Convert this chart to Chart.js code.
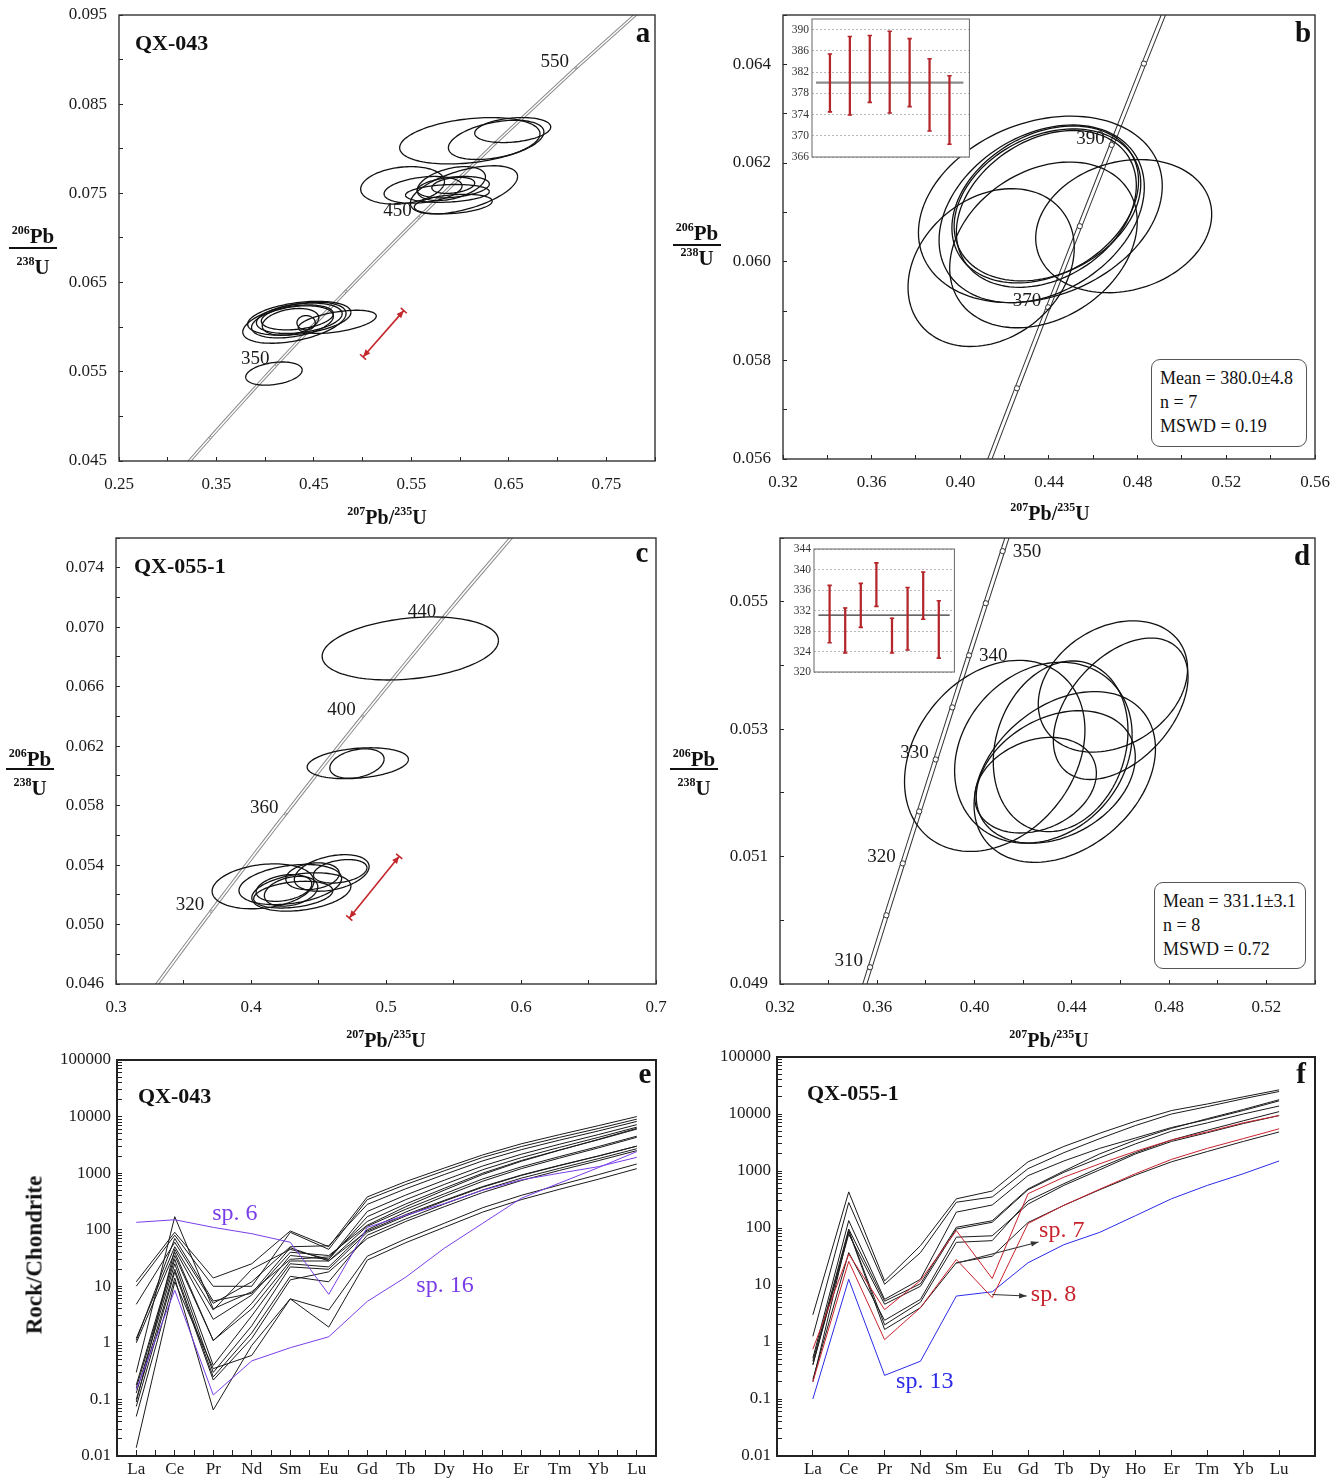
<!DOCTYPE html>
<html>
<head>
<meta charset="utf-8">
<script src="https://cdn.jsdelivr.net/npm/chart.js@4.4.1/dist/chart.umd.min.js"></script>
<style>
  body { margin: 0; background: #fff; }
  #fig { position: relative; width: 1344px; height: 1480px; background: #fff; overflow: hidden;
         font-family: "Liberation Serif", "Times New Roman", serif; color: #111; }
  #fig canvas { position: absolute; }
  .t { position: absolute; white-space: nowrap; line-height: 1; }
  .name { font-weight: bold; font-size: 22px; transform: translateY(-50%); }
  .letter { font-weight: bold; font-size: 29px; transform: translate(-50%, -50%); }
  .ax { font-weight: bold; font-size: 20px; transform: translate(-50%, -50%); }
  .ax sup, .yt sup { font-size: 12px; vertical-align: top; position: relative; top: -2px; }
  .yt { font-weight: bold; font-size: 21px; transform: translate(-50%, -50%); }
  .bar { position: absolute; height: 2px; background: #111; }
  .stat { position: absolute; border: 1px solid #555; border-radius: 9px; font-size: 18px;
          line-height: 24px; padding: 6px 0 0 8px; box-sizing: border-box; background: #fff; }
  .rot { font-weight: bold; font-size: 23px; transform: translate(-50%, -50%) rotate(-90deg); }
</style>
</head>
<body>
<div id="fig"></div>
<script>
// concordia reference points: age (Ma), 207Pb/235U, 206Pb/238U
const conAge = [280, 300, 305, 310, 315, 320, 325, 330, 335, 340, 345, 350, 355, 360, 370, 380, 390, 400, 420, 440, 450, 500, 550, 600];
const conX = [0.31753, 0.34374, 0.35037, 0.35704, 0.36374, 0.37047, 0.37723, 0.38403, 0.39086, 0.39773, 0.40463, 0.41156,
              0.41853, 0.42553, 0.43964, 0.45389, 0.46828, 0.48281, 0.51231, 0.54239, 0.55766, 0.63628, 0.71887, 0.80563];
const conY = [0.044392, 0.047637, 0.048450, 0.049263, 0.050078, 0.050893, 0.051708, 0.052524, 0.053341, 0.054158, 0.054976, 0.055794,
              0.056614, 0.057433, 0.059075, 0.060719, 0.062366, 0.064015, 0.067322, 0.070638, 0.072301, 0.080650, 0.089064, 0.097544];

// a: QX-043 error ellipses (centre, half-width, correlation)
const aCx = [0.610, 0.637, 0.654, 0.541, 0.562, 0.604, 0.591, 0.587, 0.593, 0.593, 0.593, 0.430, 0.435, 0.435, 0.433, 0.426, 0.474, 0.442, 0.428, 0.409];
const aSx = [0.072, 0.049, 0.039, 0.043, 0.040, 0.055, 0.035, 0.043, 0.037, 0.040, 0.022, 0.053, 0.053, 0.044, 0.037, 0.029, 0.040, 0.0094, 0.042, 0.029];
const aCy = [0.0809, 0.0810, 0.0821, 0.0759, 0.0754, 0.0754, 0.0761, 0.0750, 0.0757, 0.0738, 0.0759, 0.0605, 0.0610, 0.0610, 0.0611, 0.0606, 0.0606, 0.0605, 0.0606, 0.0548];
const aSy = [0.0026, 0.0022, 0.0014, 0.0021, 0.0015, 0.0027, 0.0019, 0.0010, 0.0012, 0.0011, 0.0009, 0.0023, 0.0019, 0.0017, 0.0014, 0.0015, 0.0013, 0.0008, 0.0018, 0.0013];
const aRho = [0.3, 0.4, 0.25, 0.2, 0.3, 0.55, 0.4, 0.2, 0.3, 0.3, 0.3, 0.45, 0.35, 0.3, 0.3, 0.3, 0.5, 0.0, 0.35, 0.3];
const aMarks = [300, 350, 400, 450, 500, 550];
const aAgeText = [350, 450, 550];
const aArrowX = [0.5004, 0.5422];
const aArrowY = [0.05667, 0.06186];
const aXTicks = [0.25, 0.35, 0.45, 0.55, 0.65, 0.75];
const aXMinor = [0.30, 0.40, 0.50, 0.60, 0.70, 0.80];
const aYTicks = [0.045, 0.055, 0.065, 0.075, 0.085, 0.095];
const aYMinor = [0.050, 0.060, 0.070, 0.080, 0.090];

// b: QX-043 concordant analyses
const bCx = [0.4361, 0.4367, 0.4383, 0.4393, 0.4388, 0.4375, 0.4139, 0.4737];
const bSx = [0.0550, 0.0463, 0.0421, 0.0421, 0.0406, 0.0423, 0.0375, 0.0397];
const bCy = [0.06106, 0.06097, 0.06116, 0.06115, 0.06107, 0.06034, 0.05988, 0.06072];
const bSy = [0.00189, 0.00180, 0.00159, 0.00154, 0.00159, 0.00168, 0.00160, 0.00135];
const bRho = [0.25, 0.3, 0.3, 0.28, 0.3, 0.28, 0.25, 0.18];
const bMarks = [360, 370, 380, 390, 400];
const bAgeText = [370, 390];
const bXTicks = [0.32, 0.36, 0.40, 0.44, 0.48, 0.52, 0.56];
const bXMinor = [0.34, 0.38, 0.42, 0.46, 0.50, 0.54];
const bYTicks = [0.056, 0.058, 0.060, 0.062, 0.064];
const bYMinor = [0.057, 0.059, 0.061, 0.063, 0.065];
const bAgeLow = [374.5, 373.9, 376.3, 374.3, 375.5, 370.9, 368.4];
const bAgeHigh = [385.4, 388.7, 388.9, 389.7, 388.3, 384.5, 381.3];
const bMean = 380.0;
const bInsetTicks = [366, 370, 374, 378, 382, 386, 390];

// c: QX-055-1 error ellipses
const cCx = [0.518, 0.4791, 0.4785, 0.4089, 0.4598, 0.4661, 0.4456, 0.4291, 0.4373, 0.4297, 0.4313, 0.4244];
const cSx = [0.0653, 0.0375, 0.0201, 0.0377, 0.0277, 0.0198, 0.0198, 0.0380, 0.0367, 0.0198, 0.0293, 0.0206];
const cCy = [0.06857, 0.06085, 0.06083, 0.05257, 0.05347, 0.05358, 0.05325, 0.05269, 0.05219, 0.05224, 0.05201, 0.05246];
const cSy = [0.00212, 0.00104, 0.00099, 0.00151, 0.00123, 0.00079, 0.00090, 0.00135, 0.00129, 0.00100, 0.00090, 0.00090];
const cRho = [0.25, 0.25, 0.3, 0.22, 0.35, 0.3, 0.2, 0.3, 0.3, 0.3, 0.3, 0.3];
const cMarks = [320, 360, 400, 440];
const cAgeText = [320, 360, 400, 440];
const cArrowX = [0.4728, 0.5098];
const cArrowY = [0.05044, 0.05459];
const cXTicks = [0.3, 0.4, 0.5, 0.6, 0.7];
const cXMinor = [0.35, 0.45, 0.55, 0.65];
const cYTicks = [0.046, 0.050, 0.054, 0.058, 0.062, 0.066, 0.070, 0.074];
const cYMinor = [0.048, 0.052, 0.056, 0.060, 0.064, 0.068, 0.072, 0.076];

// d: QX-055-1 concordant analyses
const dCx = [0.4083, 0.4283, 0.4354, 0.4569, 0.4601, 0.4371, 0.4334, 0.4251];
const dSx = [0.0371, 0.0365, 0.0277, 0.0307, 0.0277, 0.0373, 0.0327, 0.0250];
const dCy = [0.05258, 0.05263, 0.05273, 0.05367, 0.05332, 0.05225, 0.05225, 0.05212];
const dSy = [0.00150, 0.00142, 0.00134, 0.00103, 0.00111, 0.00134, 0.00104, 0.00075];
const dRho = [0.27, 0.2, 0.18, 0.27, 0.45, 0.33, 0.3, 0.25];
const dMarks = [305, 310, 315, 320, 325, 330, 335, 340, 345, 350, 355];
const dAgeText = [310, 320, 330, 340, 350];
const dXTicks = [0.32, 0.36, 0.40, 0.44, 0.48, 0.52];
const dXMinor = [0.34, 0.38, 0.42, 0.46, 0.50, 0.54];
const dYTicks = [0.049, 0.051, 0.053, 0.055];
const dYMinor = [0.050, 0.052, 0.054, 0.056];
const dAgeLow = [325.7, 323.7, 328.7, 332.8, 323.7, 324.3, 330.3, 322.7];
const dAgeHigh = [336.9, 332.5, 337.3, 341.3, 330.5, 336.5, 339.5, 333.9];
const dMean = 331.1;
const dInsetTicks = [320, 324, 328, 332, 336, 340, 344];

// e, f: chondrite-normalised REE patterns
const reeLabels = ['La', 'Ce', 'Pr', 'Nd', 'Sm', 'Eu', 'Gd', 'Tb', 'Dy', 'Ho', 'Er', 'Tm', 'Yb', 'Lu'];
const reeDecades = [0.01, 0.1, 1, 10, 100, 1000, 10000, 100000];
const eBlack = [
  [12, 90, 14, 25, 95, 50, 380, 710, 1230, 2100, 3300, 4800, 6900, 10000],
  [10, 80, 10, 10, 90, 45, 340, 630, 1100, 1900, 2950, 4300, 6150, 9000],
  [4.8, 60, 5, 12, 50, 52, 280, 530, 945, 1650, 2600, 3840, 5560, 8200],
  [1.2, 50, 3.8, 20, 45, 30, 210, 410, 750, 1340, 2160, 3250, 4800, 7200],
  [1.0, 40, 1.1, 5, 35, 30, 170, 340, 630, 1150, 1880, 2860, 4280, 6500],
  [0.3, 170, 4, 8, 30, 33, 140, 285, 540, 1000, 1670, 2570, 3890, 6000],
  [0.18, 35, 1.1, 4, 28, 28, 115, 230, 430, 790, 1290, 1970, 2950, 4500],
  [0.16, 30, 0.4, 3, 25, 22, 100, 205, 390, 720, 1200, 1850, 2790, 4300],
  [0.13, 25, 0.3, 2, 22, 20, 90, 175, 320, 565, 910, 1360, 2000, 3000],
  [0.1, 20, 0.25, 1.5, 15, 12, 80, 155, 285, 505, 815, 1220, 1800, 2700],
  [0.075, 18, 0.22, 1.2, 13, 18, 70, 140, 255, 455, 740, 1120, 1660, 2500],
  [0.05, 14, 0.065, 0.9, 6, 3.8, 34, 69, 130, 245, 405, 620, 940, 1450],
  [0.014, 12, 0.35, 0.6, 6, 1.9, 29, 59, 110, 205, 340, 520, 780, 1200],
  [0.09, 45, 2.6, 7, 40, 35, 120, 255, 500, 950, 1620, 2550, 3950, 6200],
  [1.1, 70, 5.5, 7.5, 48, 28, 95, 185, 330, 580, 925, 1380, 2010, 3000]
];
const eSp6 = [135, 150, 110, 85, 60, 7.2, 110, 180, 290, 500, 760, 1000, 1300, 1900];
const eSp16 = [0.15, 8.5, 0.12, 0.48, 0.82, 1.28, 5.4, 14.5, 47, 130, 360, 670, 1250, 2400];
const fBlack = [
  [3.0, 430, 11.8, 49, 325, 445, 1450, 2700, 4600, 7500, 11500, 15000, 20000, 26500],
  [1.26, 280, 10.3, 37, 283, 350, 1100, 2100, 3700, 6300, 10000, 13500, 18500, 24800],
  [0.52, 135, 5.6, 12.6, 190, 253, 830, 1500, 2500, 3800, 5800, 8000, 11500, 17000],
  [0.46, 96, 5.2, 10.5, 103, 134, 485, 1000, 2000, 3500, 5600, 8300, 12000, 17800],
  [0.4, 78, 4.6, 9.5, 96, 126, 470, 950, 1700, 3000, 5000, 7000, 10000, 13800],
  [0.22, 37, 2.4, 5.6, 69, 73, 263, 560, 1050, 2000, 3300, 4700, 6800, 9400],
  [0.2, 90, 2.0, 5.0, 56, 60, 300, 600, 1150, 2100, 3500, 5200, 7600, 11000],
  [0.4, 88, 1.66, 4, 24.6, 32, 125, 250, 470, 850, 1450, 2200, 3300, 4840]
];
const fSp7 = [0.75, 35, 3.7, 12, 90, 13, 400, 780, 1340, 2220, 3500, 4860, 7000, 9400];
const fSp8 = [0.2, 26, 1.1, 4, 28, 6, 120, 250, 480, 900, 1600, 2500, 3700, 5500];
const fSp13 = [0.1, 12.6, 0.26, 0.46, 6.4, 7.6, 24.6, 51, 84, 165, 326, 560, 895, 1500];

const SERIF = '"Liberation Serif", "Times New Roman", serif';
Chart.defaults.font.family = SERIF;
const fig = document.getElementById('fig');

function mount(rect, pad) {
  const c = document.createElement('canvas');
  const w = rect.r - rect.l + pad.l + pad.r, h = rect.b - rect.t + pad.t + pad.b;
  c.width = w; c.height = h;
  c.style.left = (rect.l - pad.l) + 'px'; c.style.top = (rect.t - pad.t) + 'px';
  c.style.width = w + 'px'; c.style.height = h + 'px';
  fig.appendChild(c);
  return c;
}

function text(html, cls, x, y, extra) {
  const d = document.createElement('div');
  d.className = 't ' + cls;
  d.innerHTML = html;
  d.style.left = x + 'px'; d.style.top = y + 'px';
  if (extra) Object.assign(d.style, extra);
  fig.appendChild(d);
  return d;
}

function tickAxis(min, max, major, minor, digits, opt) {
  const all = major.concat(minor).sort((p, q) => p - q);
  return {
    type: 'linear', min, max, bounds: 'data', offset: false,
    afterBuildTicks: s => { s.ticks = all.map(v => ({ value: v })); },
    afterFit: opt.fit,
    border: { display: false },
    grid: { drawOnChartArea: false, drawTicks: true, tickLength: opt.tl, tickColor: '#222', tickWidth: 1 },
    ticks: {
      autoSkip: false, maxRotation: 0, minRotation: 0, padding: opt.pad, color: '#1a1a1a',
      font: { family: SERIF, size: opt.size || 17 },
      callback: v => major.some(m => Math.abs(m - v) < 1e-9) ? v.toFixed(digits) : ''
    }
  };
}

function px(chart, x, y) {
  return [chart.scales.x.getPixelForValue(x), chart.scales.y.getPixelForValue(y)];
}

function decor(opt) {
  return {
    id: 'decor',
    beforeDraw(chart) {
      if (!opt.fill) return;
      const a = chart.chartArea, ctx = chart.ctx;
      ctx.save(); ctx.fillStyle = opt.fill; ctx.fillRect(a.left, a.top, a.width, a.height); ctx.restore();
    },
    afterDatasetsDraw(chart) { if (opt.draw) opt.draw(chart); },
    afterDraw(chart) {
      const a = chart.chartArea, ctx = chart.ctx;
      ctx.save(); ctx.strokeStyle = opt.frameColor; ctx.lineWidth = opt.frameWidth;
      ctx.strokeRect(a.left, a.top, a.width, a.height); ctx.restore();
    }
  };
}

function drawEllipses(chart, e) {
  const ctx = chart.ctx, a = chart.chartArea;
  ctx.save();
  ctx.beginPath(); ctx.rect(a.left, a.top, a.width, a.height); ctx.clip();
  ctx.strokeStyle = '#111'; ctx.lineWidth = 1.3;
  e.cx.forEach((cx, i) => {
    const r = e.rho[i], q = Math.sqrt(1 - r * r);
    ctx.beginPath();
    for (let k = 0; k <= 120; k++) {
      const t = k / 120 * Math.PI * 2, c = Math.cos(t), s = Math.sin(t);
      const p = px(chart, cx + e.sx[i] * c, e.cy[i] + e.sy[i] * (r * c + q * s));
      if (k) ctx.lineTo(p[0], p[1]); else ctx.moveTo(p[0], p[1]);
    }
    ctx.stroke();
  });
  ctx.restore();
}

function drawAgeText(chart, ages, rightSide) {
  const ctx = chart.ctx;
  ctx.save();
  ctx.font = '19px ' + SERIF; ctx.fillStyle = '#1a1a1a'; ctx.textBaseline = 'middle';
  ages.forEach(age => {
    const i = conAge.indexOf(age);
    const p = px(chart, conX[i], conY[i]);
    if (rightSide.includes(age)) { ctx.textAlign = 'left'; ctx.fillText(String(age), p[0] + 10, p[1] + 1); }
    else { ctx.textAlign = 'right'; ctx.fillText(String(age), p[0] - 7, p[1] - 6); }
  });
  ctx.restore();
}

function drawErrorArrow(chart, ax, ay) {
  const ctx = chart.ctx;
  const p1 = px(chart, ax[0], ay[0]), p2 = px(chart, ax[1], ay[1]);
  const ang = Math.atan2(p2[1] - p1[1], p2[0] - p1[0]);
  ctx.save();
  ctx.strokeStyle = '#c3262b'; ctx.fillStyle = '#c3262b'; ctx.lineWidth = 1.6;
  ctx.beginPath(); ctx.moveTo(p1[0], p1[1]); ctx.lineTo(p2[0], p2[1]); ctx.stroke();
  [[p1, ang], [p2, ang + Math.PI]].forEach(([p, a]) => {
    ctx.beginPath();
    ctx.moveTo(p[0], p[1]);
    ctx.lineTo(p[0] + 8 * Math.cos(a + 0.4), p[1] + 8 * Math.sin(a + 0.4));
    ctx.lineTo(p[0] + 8 * Math.cos(a - 0.4), p[1] + 8 * Math.sin(a - 0.4));
    ctx.closePath(); ctx.fill();
    ctx.beginPath();
    ctx.moveTo(p[0] + 4 * Math.cos(a + Math.PI / 2), p[1] + 4 * Math.sin(a + Math.PI / 2));
    ctx.lineTo(p[0] - 4 * Math.cos(a + Math.PI / 2), p[1] - 4 * Math.sin(a + Math.PI / 2));
    ctx.stroke();
  });
  ctx.restore();
}

function concordiaPanel(rect, cfg) {
  // top/right padding also absorbs the edge tick labels so the plot box stays where it should
  const pad = { l: 100, t: 30, r: 38, b: 46 };
  const canvas = mount(rect, pad);
  const con = conAge.map((a, i) => ({ x: conX[i], y: conY[i] }));
  const marks = cfg.marks.map(a => ({ x: conX[conAge.indexOf(a)], y: conY[conAge.indexOf(a)] }));
  return new Chart(canvas, {
    type: 'scatter',
    data: {
      datasets: [
        { data: con, showLine: true, borderColor: cfg.lineColor, borderWidth: cfg.outerW, pointRadius: 0, order: 3 },
        { data: con, showLine: true, borderColor: '#fff', borderWidth: cfg.innerW, pointRadius: 0, order: 2 },
        { data: marks, showLine: false, pointRadius: cfg.markR, pointBackgroundColor: '#fff',
          pointBorderColor: cfg.lineColor, pointBorderWidth: 1, order: 1 }
      ]
    },
    options: {
      responsive: false, animation: false, devicePixelRatio: 1,
      layout: { padding: { left: 0, top: pad.t, right: pad.r, bottom: 0 } },
      plugins: { legend: { display: false }, tooltip: { enabled: false } },
      scales: {
        x: tickAxis(cfg.xMin, cfg.xMax, cfg.xTicks, cfg.xMinor, cfg.xDigits,
                    { tl: -4, pad: 17, fit: s => { s.height = pad.b; } }),
        y: tickAxis(cfg.yMin, cfg.yMax, cfg.yTicks, cfg.yMinor, 3,
                    { tl: -4, pad: 16, fit: s => { s.width = pad.l; } })
      }
    },
    plugins: [decor({
      frameColor: '#333', frameWidth: 1.4,
      draw: chart => {
        drawEllipses(chart, cfg.ell);
        if (cfg.arrow) drawErrorArrow(chart, cfg.arrow[0], cfg.arrow[1]);
        drawAgeText(chart, cfg.ageText, cfg.rightSide || []);
      }
    })]
  });
}

function insetPanel(rect, lo, hi, mean, cfg) {
  const pad = { l: 28, t: 10, r: 1, b: 10 };
  const canvas = mount(rect, pad);
  const red = '#b3262b';
  const caps = lo.map((v, i) => ({ x: i + 1, y: v })).concat(hi.map((v, i) => ({ x: i + 1, y: v })));
  return new Chart(canvas, {
    type: 'bar',
    data: {
      datasets: [
        { type: 'line', data: [{ x: cfg.meanSpan[0], y: mean }, { x: cfg.meanSpan[1], y: mean }],
          borderColor: cfg.meanColor, borderWidth: cfg.meanW, pointRadius: 0, order: 3 },
        { data: lo.map((v, i) => ({ x: i + 1, y: [v, hi[i]] })), backgroundColor: red, barThickness: 1.6, order: 2 },
        { type: 'scatter', data: caps, pointStyle: 'line', pointRadius: 2.2, borderColor: red, borderWidth: 1.6, order: 1 }
      ]
    },
    options: {
      responsive: false, animation: false, devicePixelRatio: 1,
      layout: { padding: { left: 0, top: pad.t, right: pad.r, bottom: pad.b } },
      plugins: { legend: { display: false }, tooltip: { enabled: false } },
      scales: {
        x: { type: 'linear', display: false, min: cfg.xMin, max: cfg.xMax, offset: false },
        y: {
          min: cfg.yMin, max: cfg.yMax, bounds: 'data',
          afterBuildTicks: s => { s.ticks = cfg.ticks.map(v => ({ value: v })); },
          afterFit: s => { s.width = pad.l; },
          border: { display: false, dash: [2, 2] },
          grid: { drawTicks: false, color: '#b8b8b8', lineWidth: 1 },
          ticks: { autoSkip: false, padding: 3, color: '#333', font: { family: SERIF, size: 11.5 } }
        }
      }
    },
    plugins: [decor({ fill: '#fff', frameColor: '#666', frameWidth: 1 })]
  });
}

function drawNotes(chart, notes) {
  const ctx = chart.ctx;
  ctx.save(); ctx.textAlign = 'center'; ctx.textBaseline = 'middle';
  notes.forEach(n => {
    const p = px(chart, n.x, n.y);
    ctx.font = '24px ' + SERIF; ctx.fillStyle = n.color;
    ctx.fillText(n.text, p[0], p[1]);
  });
  ctx.restore();
}

function drawPointers(chart, arrows) {
  const ctx = chart.ctx;
  ctx.save(); ctx.strokeStyle = '#333'; ctx.fillStyle = '#333'; ctx.lineWidth = 1.1;
  arrows.forEach(ar => {
    const p1 = px(chart, ar[0], ar[1]), p2 = px(chart, ar[2], ar[3]);
    const a = Math.atan2(p2[1] - p1[1], p2[0] - p1[0]);
    ctx.beginPath(); ctx.moveTo(p1[0], p1[1]); ctx.lineTo(p2[0], p2[1]); ctx.stroke();
    ctx.beginPath(); ctx.moveTo(p2[0], p2[1]);
    ctx.lineTo(p2[0] - 8 * Math.cos(a - 0.35), p2[1] - 8 * Math.sin(a - 0.35));
    ctx.lineTo(p2[0] - 8 * Math.cos(a + 0.35), p2[1] - 8 * Math.sin(a + 0.35));
    ctx.closePath(); ctx.fill();
  });
  ctx.restore();
}

function reePanel(rect, series, cfg) {
  const pad = { l: 110, t: 26, r: 18, b: 40 };
  const canvas = mount(rect, pad);
  const yTicks = [];
  reeDecades.forEach(d => { for (let m = 1; m <= 9; m++) { if (m * d <= 100000) yTicks.push(m === 1 ? d : m * d); } });
  return new Chart(canvas, {
    type: 'scatter',
    data: {
      datasets: series.map(s => ({
        data: s.values.map((v, i) => ({ x: i, y: v })), showLine: true, tension: 0,
        borderColor: s.color, borderWidth: s.width || 1, pointRadius: 0, order: s.order || 2
      }))
    },
    options: {
      responsive: false, animation: false, devicePixelRatio: 1,
      layout: { padding: { left: 0, top: pad.t, right: pad.r, bottom: 0 } },
      plugins: { legend: { display: false }, tooltip: { enabled: false } },
      scales: {
        x: {
          type: 'linear', min: cfg.xMin, max: cfg.xMax, bounds: 'data', offset: false,
          afterBuildTicks: s => { s.ticks = cfg.xTicks.map(v => ({ value: v })); },
          afterFit: s => { s.height = pad.b; },
          border: { display: false },
          grid: { drawOnChartArea: false, tickLength: -6, tickColor: '#222' },
          ticks: { autoSkip: false, maxRotation: 0, minRotation: 0, padding: 9, color: '#1a1a1a',
                   font: { family: SERIF, size: 17 },
                   callback: v => (Number.isInteger(v) && v >= 0 && v < reeLabels.length) ? reeLabels[v] : '' }
        },
        y: {
          type: 'logarithmic', min: 0.01, max: 100000, bounds: 'data',
          afterBuildTicks: s => { s.ticks = yTicks.map(v => ({ value: v })); },
          afterFit: s => { s.width = pad.l; },
          border: { display: false },
          grid: { drawOnChartArea: false, tickLength: -5, tickColor: '#222' },
          ticks: { autoSkip: false, padding: 11, color: '#1a1a1a', font: { family: SERIF, size: 17 },
                   callback: v => reeDecades.includes(v) ? String(v) : '' }
        }
      }
    },
    plugins: [decor({
      frameColor: '#222', frameWidth: 2,
      draw: chart => { drawPointers(chart, cfg.arrows || []); drawNotes(chart, cfg.notes); }
    })]
  });
}

// ---- panel a ----
concordiaPanel({ l: 119, t: 15, r: 655, b: 461 }, {
  xMin: 0.25, xMax: 0.80, yMin: 0.045, yMax: 0.095, xDigits: 2,
  xTicks: aXTicks, xMinor: aXMinor, yTicks: aYTicks, yMinor: aYMinor,
  ell: { cx: aCx, sx: aSx, cy: aCy, sy: aSy, rho: aRho },
  marks: aMarks, ageText: aAgeText, arrow: [aArrowX, aArrowY],
  lineColor: '#8a8a8a', outerW: 3.4, innerW: 1.4, markR: 1.2
});
// ---- panel b ----
concordiaPanel({ l: 783, t: 15, r: 1315, b: 459 }, {
  xMin: 0.32, xMax: 0.56, yMin: 0.056, yMax: 0.065, xDigits: 2,
  xTicks: bXTicks, xMinor: bXMinor, yTicks: bYTicks, yMinor: bYMinor,
  ell: { cx: bCx, sx: bSx, cy: bCy, sy: bSy, rho: bRho },
  marks: bMarks, ageText: bAgeText,
  lineColor: '#333', outerW: 5, innerW: 3, markR: 2.6
});
// ---- panel c ----
concordiaPanel({ l: 116, t: 538, r: 656, b: 984 }, {
  xMin: 0.3, xMax: 0.7, yMin: 0.046, yMax: 0.076, xDigits: 1,
  xTicks: cXTicks, xMinor: cXMinor, yTicks: cYTicks, yMinor: cYMinor,
  ell: { cx: cCx, sx: cSx, cy: cCy, sy: cSy, rho: cRho },
  marks: cMarks, ageText: cAgeText, arrow: [cArrowX, cArrowY],
  lineColor: '#8a8a8a', outerW: 3.6, innerW: 1.6, markR: 1.2
});
// ---- panel d ----
concordiaPanel({ l: 780, t: 538, r: 1315, b: 984 }, {
  xMin: 0.32, xMax: 0.54, yMin: 0.049, yMax: 0.056, xDigits: 2,
  xTicks: dXTicks, xMinor: dXMinor, yTicks: dYTicks, yMinor: dYMinor,
  ell: { cx: dCx, sx: dSx, cy: dCy, sy: dSy, rho: dRho },
  marks: dMarks, ageText: dAgeText, rightSide: [340, 350],
  lineColor: '#333', outerW: 5, innerW: 3, markR: 2.6
});
// ---- insets ----
insetPanel({ l: 812, t: 19, r: 974, b: 157 }, bAgeLow, bAgeHigh, bMean, {
  xMin: 0.1, xMax: 8, yMin: 366, yMax: 392, ticks: bInsetTicks,
  meanSpan: [0.3, 7.7], meanColor: '#8c8c8c', meanW: 2.2
});
insetPanel({ l: 814, t: 549, r: 959, b: 672 }, dAgeLow, dAgeHigh, dMean, {
  xMin: 0, xMax: 9, yMin: 320, yMax: 344, ticks: dInsetTicks,
  meanSpan: [0.28, 8.7], meanColor: '#333', meanW: 1.2
});
// ---- panel e ----
const purple = '#7a3ee8';
reePanel({ l: 117, t: 1060, r: 656, b: 1456 },
  eBlack.map(v => ({ values: v, color: '#1a1a1a', order: 2 }))
    .concat([{ values: eSp6, color: purple, order: 1 }, { values: eSp16, color: purple, order: 1 }]), {
  xMin: -0.5, xMax: 13.5,
  xTicks: [0, 0.5, 1, 1.5, 2, 2.5, 3, 3.5, 4, 4.5, 5, 5.5, 6, 6.5, 7, 7.5, 8, 8.5, 9, 9.5, 10, 10.5, 11, 11.5, 12, 12.5, 13],
  notes: [{ x: 2.56, y: 195, text: 'sp. 6', color: purple }, { x: 8.02, y: 10.2, text: 'sp. 16', color: purple }]
});
// ---- panel f ----
const red = '#c8232c', blue = '#2a2ae8';
reePanel({ l: 777, t: 1057, r: 1315, b: 1456 },
  fBlack.map(v => ({ values: v, color: '#1a1a1a', order: 2 }))
    .concat([{ values: fSp7, color: red, order: 1 }, { values: fSp8, color: red, order: 1 },
             { values: fSp13, color: blue, order: 1 }]), {
  xMin: -1, xMax: 14,
  xTicks: [0, 1, 2, 3, 4, 5, 6, 7, 8, 9, 10, 11, 12, 13],
  arrows: [[4.0, 24, 6.29, 57], [5.0, 6.8, 5.96, 6.4]],
  notes: [{ x: 6.94, y: 90, text: 'sp. 7', color: red }, { x: 6.71, y: 6.8, text: 'sp. 8', color: red },
          { x: 3.12, y: 0.2, text: 'sp. 13', color: blue }]
});

// ---- titles and labels ----
const xTitle = '<sup>207</sup>Pb/<sup>235</sup>U';
[[387, 517], [1050, 513], [386, 1040], [1049, 1040]].forEach(p => text(xTitle, 'ax', p[0], p[1]));
[[33, 236, 247, 267], [697, 233, 244, 258], [30, 759, 768, 788], [694, 759, 768, 788]].forEach(p => {
  text('<sup>206</sup>Pb', 'yt', p[0], p[1]);
  const b = document.createElement('div'); b.className = 'bar';
  b.style.left = (p[0] - 24) + 'px'; b.style.top = p[2] + 'px'; b.style.width = '48px';
  fig.appendChild(b);
  text('<sup>238</sup>U', 'yt', p[0], p[3]);
});
text('QX-043', 'name', 135, 43);
text('QX-055-1', 'name', 134, 566);
text('QX-043', 'name', 138, 1096);
text('QX-055-1', 'name', 807, 1093);
[['a', 643, 32], ['b', 1303, 32], ['c', 642, 552], ['d', 1302, 555], ['e', 645, 1073], ['f', 1301, 1073]]
  .forEach(p => text(p[0], 'letter', p[1], p[2]));
text('Rock/Chondrite', 'rot', 34, 1255);
text('Mean = 380.0±4.8<br>n = 7<br>MSWD = 0.19', 'stat', 1151, 359, { width: '156px', height: '88px' });
text('Mean = 331.1±3.1<br>n = 8<br>MSWD = 0.72', 'stat', 1154, 882, { width: '152px', height: '87px' });
</script>
</body>
</html>
